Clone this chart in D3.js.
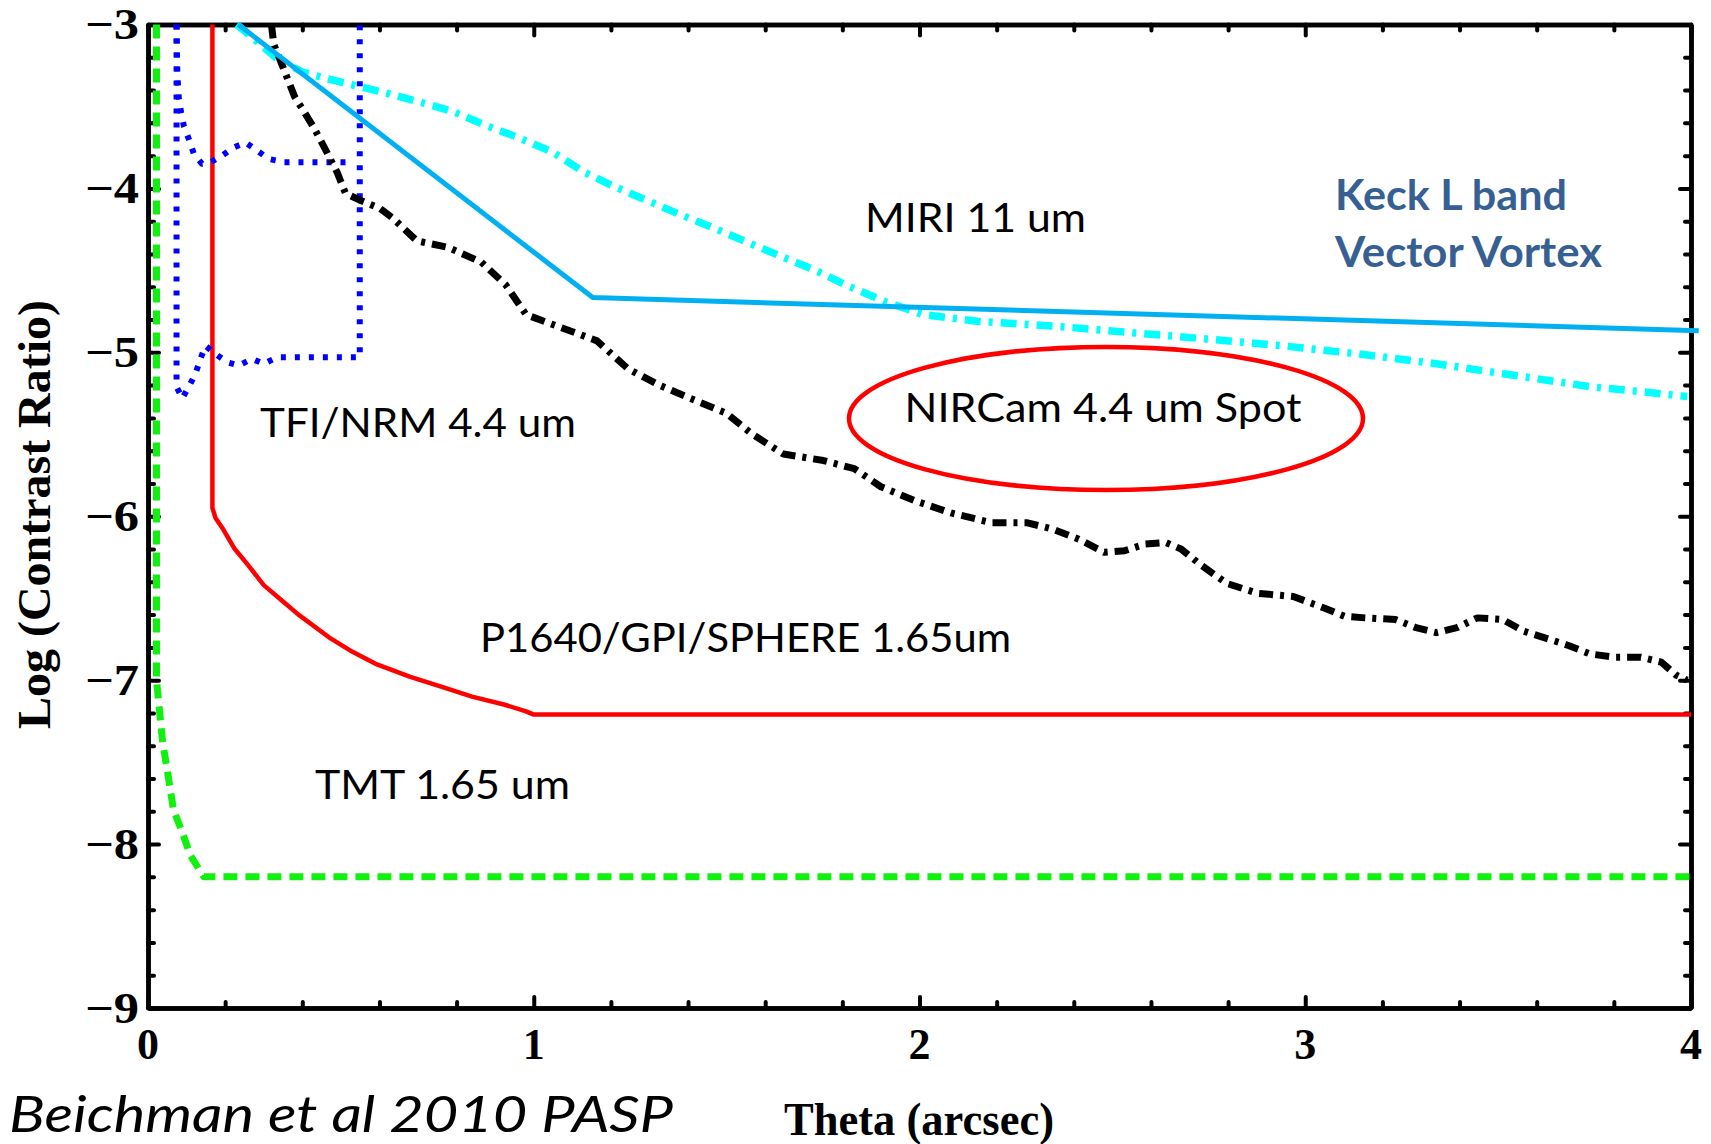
<!DOCTYPE html>
<html>
<head>
<meta charset="utf-8">
<script src="https://cdn.jsdelivr.net/npm/d3@7"></script>
<style>
  body { margin: 0; background: #fff; }
  svg { display: block; }
</style>
</head>
<body>
<div id="chart"></div>
<script>
// tick labels
var xTicks = [0, 1, 2, 3, 4];
var yTicks = [-3, -4, -5, -6, -7, -8, -9];

// [theta (arcsec), log contrast]
var tmt = [[0.022,-3.0],[0.022,-7.0],[0.028,-7.14],[0.038,-7.38],[0.05,-7.55],[0.066,-7.79],[0.089,-7.93],[0.11,-8.07],[0.145,-8.2],[4.0,-8.2]];
var p1640 = [[0.167,-3.0],[0.167,-5.95],[0.175,-6.01],[0.195,-6.08],[0.225,-6.2],[0.26,-6.3],[0.3,-6.42],[0.35,-6.52],[0.39,-6.6],[0.47,-6.74],[0.525,-6.82],[0.59,-6.9],[0.68,-6.98],[0.76,-7.04],[0.84,-7.1],[0.925,-7.15],[0.98,-7.19],[1.0,-7.21],[4.0,-7.21]];
var tfiLower = [[0.074,-3.0],[0.074,-5.21],[0.089,-5.28],[0.108,-5.2],[0.123,-5.13],[0.136,-5.04],[0.149,-4.96],[0.175,-5.01],[0.205,-5.06],[0.235,-5.08],[0.27,-5.04],[0.3,-5.07],[0.335,-5.03],[0.37,-5.03],[0.53,-5.03],[0.549,-5.03],[0.549,-3.0]];
var tfiUpper = [[0.074,-3.0],[0.076,-3.3],[0.08,-3.45],[0.086,-3.54],[0.093,-3.62],[0.106,-3.7],[0.119,-3.79],[0.14,-3.85],[0.162,-3.84],[0.192,-3.8],[0.222,-3.75],[0.253,-3.72],[0.283,-3.77],[0.313,-3.82],[0.352,-3.84],[0.535,-3.84]];
var miri = [[0.23,-3.0],[0.266,-3.07],[0.33,-3.2],[0.4,-3.29],[0.48,-3.34],[0.55,-3.38],[0.605,-3.41],[0.7,-3.47],[0.79,-3.53],[0.88,-3.62],[0.96,-3.69],[1.05,-3.78],[1.13,-3.9],[1.21,-3.99],[1.29,-4.07],[1.38,-4.16],[1.475,-4.25],[1.555,-4.33],[1.647,-4.42],[1.73,-4.5],[1.81,-4.59],[1.91,-4.69],[2.01,-4.77],[2.15,-4.81],[2.35,-4.84],[2.55,-4.88],[2.75,-4.92],[2.94,-4.96],[3.14,-5.01],[3.34,-5.07],[3.54,-5.14],[3.74,-5.21],[3.87,-5.24],[3.99,-5.27]];
var nircam = [[0.32,-3.0],[0.326,-3.12],[0.36,-3.32],[0.38,-3.44],[0.404,-3.53],[0.43,-3.63],[0.455,-3.74],[0.49,-3.9],[0.512,-4.03],[0.548,-4.07],[0.6,-4.12],[0.634,-4.18],[0.697,-4.32],[0.778,-4.36],[0.864,-4.45],[0.928,-4.59],[0.98,-4.77],[1.072,-4.85],[1.164,-4.93],[1.244,-5.1],[1.325,-5.2],[1.405,-5.28],[1.498,-5.37],[1.567,-5.5],[1.647,-5.62],[1.751,-5.66],[1.831,-5.71],[1.9,-5.82],[1.993,-5.91],[2.082,-5.98],[2.188,-6.04],[2.28,-6.04],[2.347,-6.08],[2.413,-6.14],[2.479,-6.22],[2.532,-6.21],[2.585,-6.17],[2.638,-6.16],[2.678,-6.2],[2.731,-6.3],[2.797,-6.41],[2.877,-6.47],[2.969,-6.49],[3.049,-6.56],[3.102,-6.61],[3.155,-6.62],[3.234,-6.63],[3.287,-6.68],[3.34,-6.71],[3.393,-6.68],[3.446,-6.62],[3.512,-6.63],[3.565,-6.7],[3.632,-6.75],[3.684,-6.79],[3.738,-6.84],[3.804,-6.86],[3.87,-6.86],[3.923,-6.89],[3.962,-6.97],[3.99,-7.0]];
var keck = [[0.234,-3.0],[1.153,-4.666],[4.02,-4.868]];

var w = 1711, h = 1144;
var padLeft = 148, padRight = 1691, padTop = 24.5, padBottom = 1008;

var svg = d3.select("#chart").append("svg")
  .attr("width", w)
  .attr("height", h);

var x = d3.scaleLinear().domain([0, 4]).range([padLeft, padRight]);
var y = d3.scaleLinear().domain([-9, -3]).range([padBottom, padTop]);

var xMinor = d3.range(0, 4.001, 0.2).filter(function(d) { return Math.abs(d - Math.round(d)) > 0.01; });
var yMinor = d3.range(-9, -2.999, 0.2).filter(function(d) { return Math.abs(d - Math.round(d)) > 0.01; });

// frame with inward ticks on all four sides
function styleAxis(g) {
  g.select(".domain").attr("stroke", "#000").attr("stroke-width", 4.5);
  g.selectAll(".tick line").attr("stroke", "#000").attr("stroke-width", 4).attr("stroke-linecap", "round");
  g.selectAll(".tick text").remove();
}
function addAxis(axisFn, scale, tr, ticks, size) {
  var g = svg.append("g").attr("transform", tr)
    .call(axisFn(scale).tickValues(ticks).tickSize(-size).tickSizeOuter(0).tickFormat(""));
  styleAxis(g);
}
addAxis(d3.axisBottom, x, "translate(0," + padBottom + ")", xTicks, 11);
addAxis(d3.axisBottom, x, "translate(0," + padBottom + ")", xMinor, 6);
addAxis(d3.axisTop, x, "translate(0," + padTop + ")", xTicks, 11);
addAxis(d3.axisTop, x, "translate(0," + padTop + ")", xMinor, 6);
addAxis(d3.axisLeft, y, "translate(" + padLeft + ",0)", yTicks, 11);
addAxis(d3.axisLeft, y, "translate(" + padLeft + ",0)", yMinor, 6);
addAxis(d3.axisRight, y, "translate(" + padRight + ",0)", yTicks, 11);
addAxis(d3.axisRight, y, "translate(" + padRight + ",0)", yMinor, 6);

// tick labels
svg.selectAll("text.xt")
  .data(xTicks)
  .enter()
  .append("text")
  .attr("class", "xt")
  .attr("x", function(d) { return x(d); })
  .attr("y", 1059)
  .attr("text-anchor", "middle")
  .attr("font-family", "'Liberation Serif', 'Times New Roman', serif")
  .attr("font-weight", "bold")
  .attr("font-size", "44px")
  .text(function(d) { return d; });

svg.selectAll("text.yt")
  .data(yTicks)
  .enter()
  .append("text")
  .attr("class", "yt")
  .attr("x", 139)
  .attr("y", function(d) { return y(d) + 14.5; })
  .attr("text-anchor", "end")
  .attr("font-family", "'Liberation Serif', 'Times New Roman', serif")
  .attr("font-weight", "bold")
  .attr("font-size", "44px")
  .attr("textLength", 54)
  .attr("lengthAdjust", "spacingAndGlyphs")
  .text(function(d) { return "\u2212" + Math.abs(d); });

// axis titles
svg.append("text")
  .attr("transform", "translate(50,514.5) rotate(-90)")
  .attr("text-anchor", "middle")
  .attr("font-family", "'Liberation Serif', 'Times New Roman', serif")
  .attr("font-weight", "bold")
  .attr("font-size", "46px")
  .attr("textLength", 429)
  .attr("lengthAdjust", "spacingAndGlyphs")
  .text("Log (Contrast Ratio)");

svg.append("text")
  .attr("x", 784)
  .attr("y", 1135)
  .attr("font-family", "'Liberation Serif', 'Times New Roman', serif")
  .attr("font-weight", "bold")
  .attr("font-size", "46px")
  .attr("textLength", 270)
  .attr("lengthAdjust", "spacingAndGlyphs")
  .text("Theta (arcsec)");

// curves
var line = d3.line()
  .x(function(d) { return x(d[0]); })
  .y(function(d) { return y(d[1]); });

var curves = [
  { data: tmt, color: "#11f011", width: 7, dash: "14,8" },
  { data: p1640, color: "#ff0000", width: 4.5, dash: null },
  { data: tfiLower, color: "#0000ff", width: 6, dash: "5,9" },
  { data: tfiUpper, color: "#0000ff", width: 6, dash: "5,9" },
  { data: miri, color: "#00ffff", width: 7.5, dash: "16,8,4,8" },
  { data: nircam, color: "#000000", width: 7, dash: "14,7,4,7" },
  { data: keck, color: "#00b0f0", width: 5, dash: null }
];

svg.selectAll("path.curve")
  .data(curves)
  .enter()
  .append("path")
  .attr("class", "curve")
  .attr("d", function(d) { return line(d.data); })
  .attr("fill", "none")
  .attr("stroke", function(d) { return d.color; })
  .attr("stroke-width", function(d) { return d.width; })
  .attr("stroke-dasharray", function(d) { return d.dash; })
  .attr("stroke-linejoin", "round");

// NIRCam ellipse
svg.append("ellipse")
  .attr("cx", 1106)
  .attr("cy", 418.5)
  .attr("rx", 257)
  .attr("ry", 71.5)
  .attr("fill", "none")
  .attr("stroke", "#ff0000")
  .attr("stroke-width", 4.5);

// annotations
var labelFont = "Lato, 'Open Sans', sans-serif";
function label(txt, lx, ly, len, opts) {
  opts = opts || {};
  svg.append("text")
    .attr("x", lx)
    .attr("y", ly)
    .attr("font-family", labelFont)
    .attr("font-size", (opts.size || 40) + "px")
    .attr("font-weight", opts.weight || "normal")
    .attr("font-style", opts.style || "normal")
    .attr("fill", opts.color || "#000")
    .attr("textLength", len)
    .attr("lengthAdjust", "spacingAndGlyphs")
    .text(txt);
}
label("MIRI 11 um", 865, 232, 221, { size: 41 });
label("NIRCam 4.4 um Spot", 904.5, 422, 397, { size: 41 });
label("TFI/NRM 4.4 um", 260, 437, 316, { size: 41 });
label("P1640/GPI/SPHERE 1.65um", 480, 651.5, 531, { size: 41 });
label("TMT 1.65 um", 315, 799, 255, { size: 41 });
label("Keck L band", 1335, 210, 232, { weight: "bold", color: "#376092", size: 42 });
label("Vector Vortex", 1335, 267, 267, { weight: "bold", color: "#376092", size: 42 });
label("Beichman et al 2010 PASP", 9, 1131.5, 664, { style: "italic", size: 50 });
</script>
</body>
</html>
